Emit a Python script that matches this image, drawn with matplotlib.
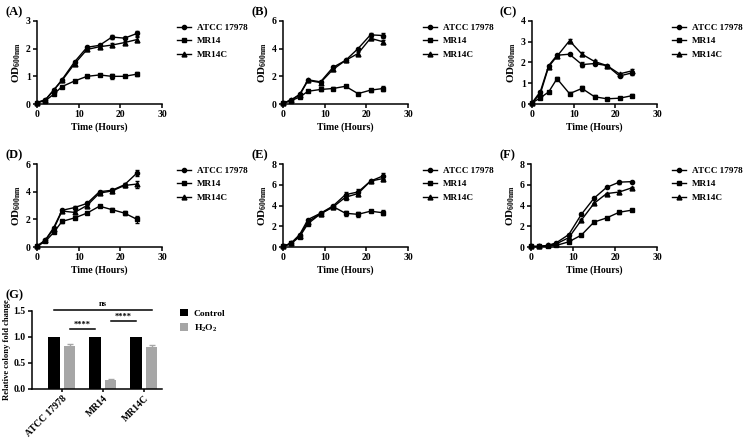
## bacterial growth curves + H2O2 survival, 7 panels

import matplotlib
matplotlib.use('Agg')
import matplotlib.pyplot as plt
import numpy as np

plt.rcParams['font.family'] = 'Liberation Serif'
plt.rcParams['font.weight'] = 'bold'
plt.rcParams['mathtext.fontset'] = 'custom'
plt.rcParams['mathtext.rm'] = 'Liberation Serif:bold'
plt.rcParams['mathtext.it'] = 'Liberation Serif:bold'
plt.rcParams['mathtext.bf'] = 'Liberation Serif:bold'
plt.rcParams['axes.linewidth'] = 1.1

strains = ['ATCC 17978', 'MR14', 'MR14C']
time_h = [0, 2, 4, 6, 9, 12, 15, 18, 21, 24]

# OD600 values per panel: ATCC, MR14, MR14C
a_atcc = [0.05, 0.15, 0.50, 0.88, 1.52, 2.05, 2.12, 2.42, 2.38, 2.55]
a_mr14 = [0.05, 0.12, 0.35, 0.63, 0.83, 1.00, 1.05, 1.00, 1.00, 1.08]
a_mr14c = [0.05, 0.15, 0.50, 0.85, 1.45, 1.97, 2.07, 2.13, 2.22, 2.33]
a_err = [0.02, 0.02, 0.03, 0.03, 0.05, 0.06, 0.04, 0.08, 0.04, 0.08]

b_atcc = [0.05, 0.30, 0.70, 1.75, 1.60, 2.65, 3.15, 4.00, 5.00, 4.95]
b_mr14 = [0.05, 0.25, 0.50, 0.92, 1.05, 1.12, 1.28, 0.75, 1.00, 1.12]
b_mr14c = [0.05, 0.30, 0.65, 1.70, 1.55, 2.50, 3.15, 3.65, 4.75, 4.50]
b_err = [0.03, 0.04, 0.05, 0.06, 0.08, 0.08, 0.06, 0.08, 0.10, 0.15]

c_atcc = [0.05, 0.60, 1.85, 2.35, 2.40, 1.90, 1.95, 1.85, 1.35, 1.50]
c_mr14 = [0.05, 0.30, 0.58, 1.22, 0.50, 0.75, 0.35, 0.25, 0.28, 0.40]
c_mr14c = [0.05, 0.50, 1.80, 2.30, 3.05, 2.40, 2.05, 1.85, 1.45, 1.60]
c_err = [0.02, 0.04, 0.05, 0.08, 0.06, 0.10, 0.06, 0.05, 0.06, 0.08]

d_atcc = [0.05, 0.50, 1.40, 2.65, 2.85, 3.15, 4.00, 4.10, 4.50, 5.35]
d_mr14 = [0.05, 0.40, 1.05, 1.85, 2.10, 2.45, 2.95, 2.70, 2.45, 2.00]
d_mr14c = [0.05, 0.50, 1.30, 2.60, 2.50, 3.00, 3.90, 4.05, 4.45, 4.55]
d_err = [0.03, 0.05, 0.06, 0.10, 0.10, 0.10, 0.08, 0.12, 0.12, 0.25]

e_atcc = [0.05, 0.40, 1.20, 2.65, 3.25, 3.95, 5.05, 5.30, 6.35, 6.85]
e_mr14 = [0.05, 0.35, 1.00, 2.25, 3.20, 3.90, 3.25, 3.15, 3.45, 3.30]
e_mr14c = [0.05, 0.35, 1.10, 2.45, 3.20, 3.85, 4.80, 5.15, 6.35, 6.60]
e_err = [0.03, 0.05, 0.06, 0.08, 0.08, 0.10, 0.25, 0.25, 0.10, 0.25]

f_atcc = [0.05, 0.05, 0.15, 0.40, 1.20, 3.15, 4.70, 5.75, 6.25, 6.30]
f_mr14 = [0.05, 0.05, 0.10, 0.15, 0.50, 1.15, 2.40, 2.80, 3.35, 3.55]
f_mr14c = [0.05, 0.05, 0.15, 0.30, 0.90, 2.60, 4.20, 5.15, 5.30, 5.70]
f_err = [0.02, 0.02, 0.03, 0.04, 0.06, 0.08, 0.08, 0.08, 0.15, 0.10]

# panel G
g_groups = ['ATCC 17978', 'MR14', 'MR14C']
g_control = [1.0, 1.0, 1.0]
g_h2o2 = [0.82, 0.17, 0.80]
g_h2o2_err = [0.05, 0.015, 0.05]

W, H = 747, 440
fig = plt.figure(figsize=(W / 100, H / 100), dpi=100)


def px_axes(l, r, t, b):
    return fig.add_axes([l / W, 1 - b / H, (r - l) / W, (b - t) / H])


def style(ax):
    ax.spines['top'].set_visible(False)
    ax.spines['right'].set_visible(False)
    ax.tick_params(direction='out', length=3, width=1.1, labelsize=7, pad=1.5)
    for lab in ax.get_xticklabels() + ax.get_yticklabels():
        lab.set_fontweight('bold')


panels = [
    ('(A)', (37, 162, 21, 104), 3, [a_atcc, a_mr14, a_mr14c], a_err),
    ('(B)', (283, 408, 21, 104), 6, [b_atcc, b_mr14, b_mr14c], b_err),
    ('(C)', (532, 657, 21, 104), 4, [c_atcc, c_mr14, c_mr14c], c_err),
    ('(D)', (37, 162, 164, 247), 6, [d_atcc, d_mr14, d_mr14c], d_err),
    ('(E)', (283, 408, 164, 247), 8, [e_atcc, e_mr14, e_mr14c], e_err),
    ('(F)', (531, 657, 164, 247), 8, [f_atcc, f_mr14, f_mr14c], f_err),
]
yticks = {3: [0, 1, 2, 3], 4: [0, 1, 2, 3, 4], 6: [0, 2, 4, 6], 8: [0, 2, 4, 6, 8]}
markers = ['o', 's', '^']
msizes = [3, 3.5, 3.5]

for tag, box, ymax, series, err in panels:
    ax = px_axes(*box)
    for s, mk, ms, name in zip(series, markers, msizes, strains):
        ax.errorbar(time_h, s, yerr=err, color='black', marker=mk, ms=ms,
                    lw=1, elinewidth=0.8, capsize=1.5, label=name, clip_on=False)
    ax.set_xlim(0, 30)
    ax.set_ylim(0, ymax)
    ax.set_xticks([0, 10, 20, 30])
    ax.set_yticks(yticks[ymax])
    ax.set_xlabel('Time (Hours)', fontsize=7, fontweight='bold', labelpad=2)
    ax.set_ylabel(r'OD$_{\mathrm{600nm}}$', fontsize=8, fontweight='bold', labelpad=2)
    style(ax)
    handles, labels = ax.get_legend_handles_labels()
    handles = [h[0] for h in handles]
    ax.legend(handles, labels, loc='upper left', bbox_to_anchor=(1.05, 1.07),
              frameon=False, handlelength=1.6, handletextpad=0.6,
              labelspacing=0.55, prop={'weight': 'bold', 'size': 6.6})
    l, r, t, b = box
    fig.text((l - 32) / W, 1 - (t - 9) / H, tag, fontsize=9, fontweight='bold',
             va='center', ha='left')

# panel G
axg = px_axes(32, 162, 311, 389)
x = np.arange(len(g_groups))
bw = 0.28
axg.bar(x - 0.19, g_control, bw, color='black', label='Control')
axg.bar(x + 0.19, g_h2o2, bw, color='#a6a6a6', label=r'H$_2$O$_2$',
        yerr=g_h2o2_err, error_kw=dict(ecolor='#a6a6a6', elinewidth=1, capsize=2))
axg.set_xlim(-0.73, 2.44)
axg.set_ylim(0, 1.5)
axg.set_yticks([0, 0.5, 1.0, 1.5])
axg.set_yticklabels(['0.0', '0.5', '1.0', '1.5'])
axg.set_xticks(x)
axg.set_xticklabels(g_groups, rotation=45, ha='right', rotation_mode='anchor')
axg.set_ylabel('Relative colony fold change', fontsize=6.2, fontweight='bold',
               labelpad=2)
style(axg)
axg.tick_params(axis='x', length=2)

# significance bars
sig = [(-0.19, 2.19, 1.52, 'ns', 1.64),
       (0.19, 0.81, 1.15, '****', 1.23),
       (1.19, 1.81, 1.31, '****', 1.39)]
for x0, x1, yy, txt, ty in sig:
    axg.plot([x0, x1], [yy, yy], color='black', lw=1.1, clip_on=False)
    axg.text((x0 + x1) / 2, ty, txt, ha='center', va='center', fontsize=6,
             fontweight='bold')

axg.legend(loc='upper left', bbox_to_anchor=(1.07, 1.14), frameon=False,
           handlelength=0.9, handleheight=0.9, handletextpad=0.6,
           labelspacing=0.5, prop={'weight': 'bold', 'size': 6.8})
fig.text(5 / W, 1 - 295 / H, '(G)', fontsize=9, fontweight='bold', va='center')

fig.savefig('out.png', dpi=100)
